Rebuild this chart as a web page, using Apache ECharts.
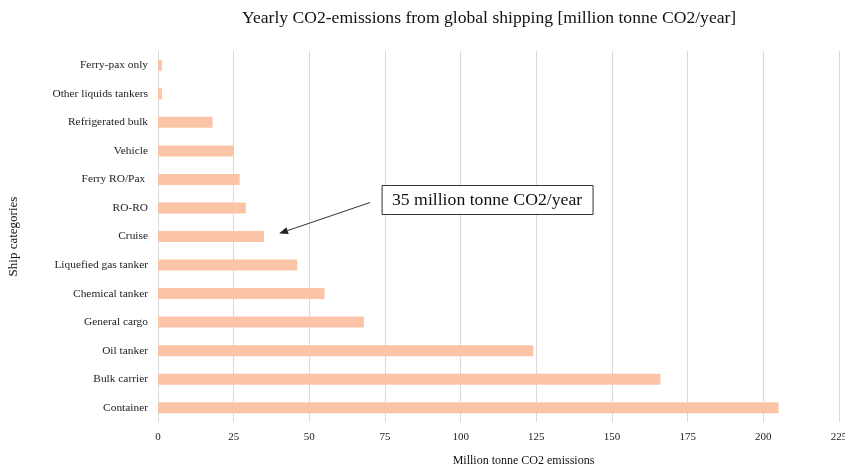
<!DOCTYPE html>
<html>
<head>
<meta charset="utf-8">
<script src="https://cdn.jsdelivr.net/npm/echarts@6/dist/echarts.min.js"></script>
<style>
  html, body { margin: 0; padding: 0; background: #fff; }
  #main { width: 845px; height: 469px; }
</style>
</head>
<body>
<div id="main"></div>
<script>
// categories bottom to top (category axis draws first item at bottom)
var categories = ['Container', 'Bulk carrier', 'Oil tanker', 'General cargo', 'Chemical tanker',
    'Liquefied gas tanker', 'Cruise', 'RO-RO', 'Ferry RO/Pax ', 'Vehicle', 'Refrigerated bulk',
    'Other liquids tankers', 'Ferry-pax only'];
var emissions = [205, 166, 124, 68, 55, 46, 35, 29, 27, 25, 18, 1.3, 1.3];
var xTicks = [0, 225, 25]; // min, max, interval
var noteText = '35 million tonne CO2/year';

var serif = '"Liberation Serif", "DejaVu Serif", serif';
var myChart = echarts.init(document.getElementById('main'));

myChart.setOption({
    animation: false,
    title: {
        text: 'Yearly CO2-emissions from global shipping [million tonne CO2/year]',
        left: 242,
        top: 9,
        padding: 0,
        textStyle: { fontFamily: serif, fontSize: 17.6, fontWeight: 'normal', color: '#111' }
    },
    grid: { left: 158, right: 6, top: 51, bottom: 47, containLabel: false, outerBoundsMode: 'none' },
    xAxis: {
        type: 'value',
        min: xTicks[0],
        max: xTicks[1],
        interval: xTicks[2],
        name: 'Million tonne CO2 emissions',
        nameLocation: 'middle',
        nameGap: 33,
        nameTextStyle: { fontFamily: serif, fontSize: 12, color: '#111', padding: [0, 0, 0, 50] },
        axisLine: { show: false },
        axisTick: { show: false },
        axisLabel: { fontFamily: serif, fontSize: 11, color: '#222', margin: 10 },
        splitLine: { show: true, lineStyle: { color: '#d9d9d9', width: 1 } }
    },
    yAxis: {
        type: 'category',
        data: categories,
        name: 'Ship categories',
        nameLocation: 'middle',
        nameGap: 138,
        nameTextStyle: { fontFamily: serif, fontSize: 13, color: '#111' },
        axisLine: { show: false },
        axisTick: { show: false },
        axisLabel: { fontFamily: serif, fontSize: 11.4, color: '#222', margin: 10 }
    },
    series: [{
        name: 'CO2',
        type: 'bar',
        data: emissions,
        barWidth: 11,
        itemStyle: { color: '#fbc4a6' }
    }]
});

// annotation pointing at the Cruise bar
var tip = myChart.convertToPixel({ xAxisIndex: 0, yAxisIndex: 0 }, [40, 'Cruise']);
var tx = tip[0], ty = tip[1] - 3;
var sx = tx + 91, sy = ty - 31;
var ang = Math.atan2(ty - sy, tx - sx);
var hl = 9, hw = 3.5;
var bx = tx - Math.cos(ang) * hl, by = ty - Math.sin(ang) * hl;
myChart.setOption({
    graphic: [
        {
            type: 'line',
            shape: { x1: sx, y1: sy, x2: bx, y2: by },
            style: { stroke: '#333', lineWidth: 1 }
        },
        {
            type: 'polygon',
            shape: { points: [
                [tx, ty],
                [bx + Math.sin(ang) * hw, by - Math.cos(ang) * hw],
                [bx - Math.sin(ang) * hw, by + Math.cos(ang) * hw]
            ] },
            style: { fill: '#222' }
        },
        {
            type: 'rect',
            shape: { x: tx + 103, y: ty - 48, width: 211, height: 29 },
            style: { fill: '#fff', stroke: '#333', lineWidth: 1 }
        },
        {
            type: 'text',
            x: tx + 208,
            y: ty - 33,
            style: { text: noteText, font: '17.7px ' + serif, fill: '#111', align: 'center', verticalAlign: 'middle' }
        }
    ]
});
</script>
</body>
</html>
